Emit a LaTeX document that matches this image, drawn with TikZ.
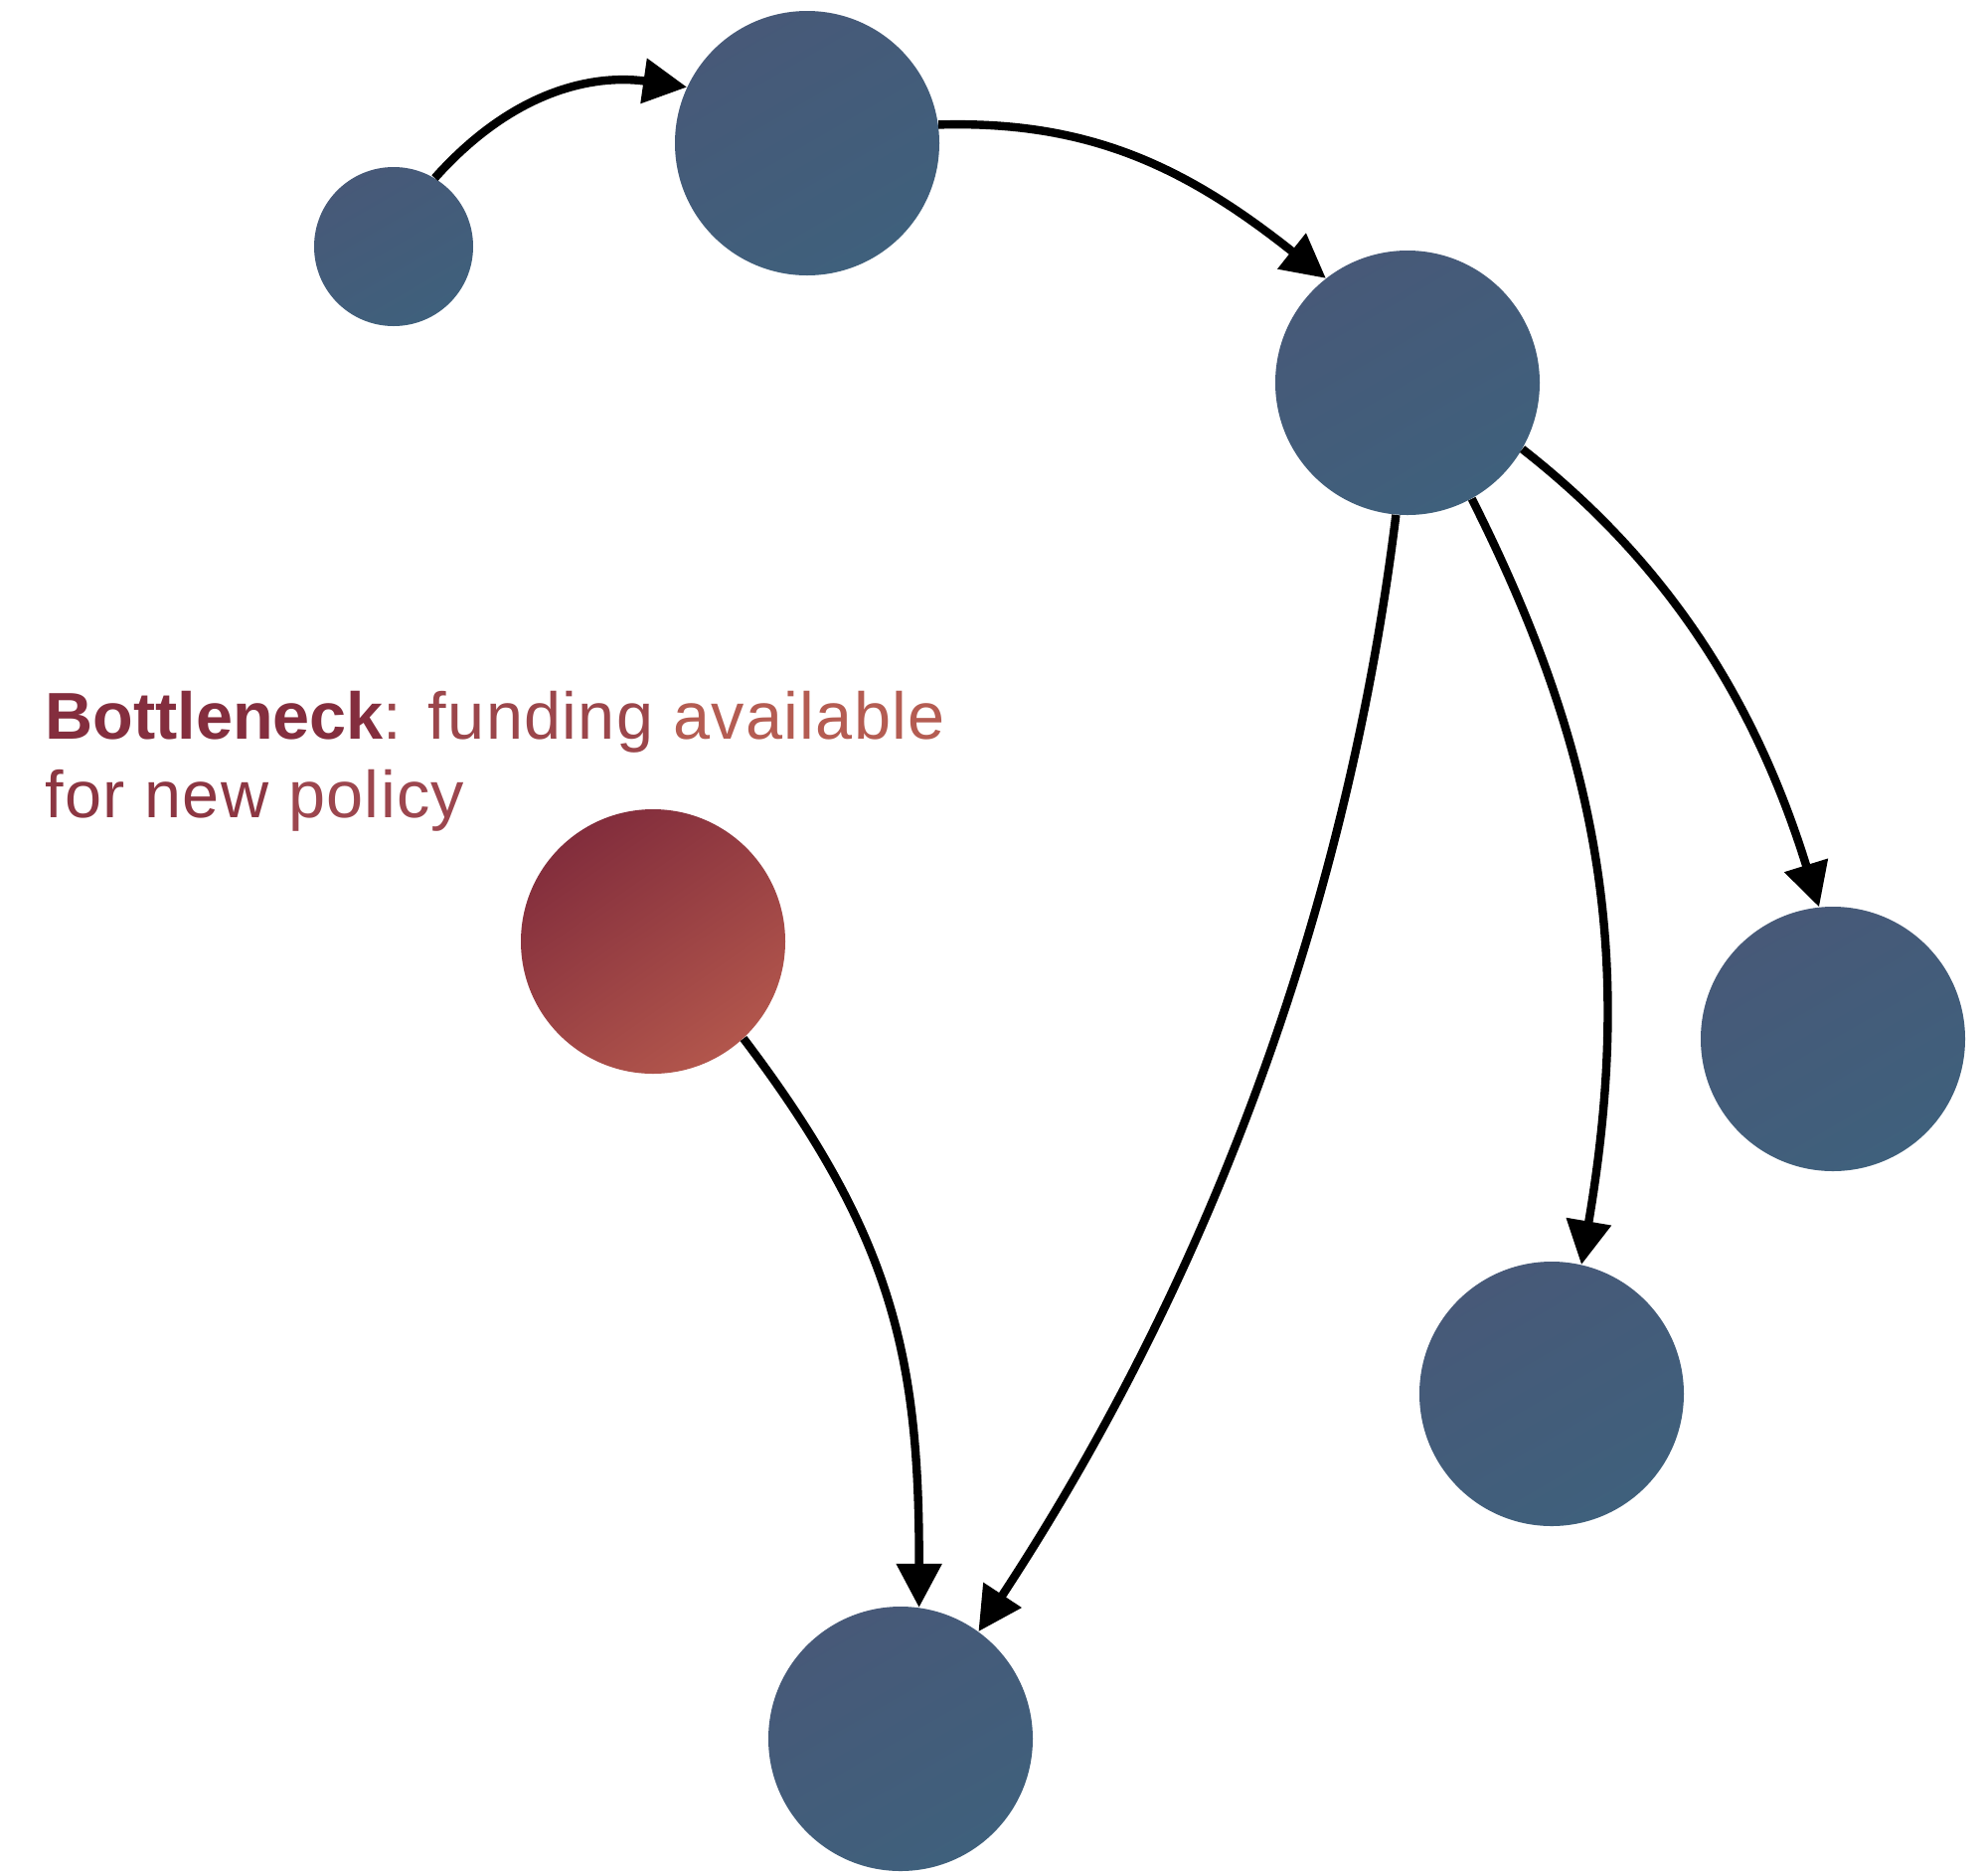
\documentclass[tikz,border=0pt]{standalone}
\usepackage{fontspec}
\setmainfont{Liberation Sans}
\usetikzlibrary{arrows.meta}
\definecolor{blobtop}{RGB}{71,89,120}
\definecolor{blobbot}{RGB}{63,96,124}
\definecolor{hottop}{RGB}{130,45,60}
\definecolor{hotbot}{RGB}{178,86,76}
\definecolor{txtA}{RGB}{132,46,62}
\definecolor{txtB}{RGB}{155,70,75}
\definecolor{txtC}{RGB}{180,92,82}
\definecolor{txtD}{RGB}{140,54,66}
\definecolor{txtE}{RGB}{156,70,78}
\tikzset{
  blob/.style={circle,inner sep=0pt,minimum size=133pt,top color=blobtop,bottom color=blobbot,shading angle=30},
  hot/.style={blob,top color=hottop,bottom color=hotbot,shading angle=35},
  link/.style={line width=4.2pt,-{Triangle[length=22pt,width=22pt]}}
}
\newcommand{\spaced}{\addfontfeatures{LetterSpace=2}}
\begin{document}
\begin{tikzpicture}[x=0.5pt,y=0.5pt]
\useasboundingbox (0,0) rectangle (1998,-1886);

\node[blob,minimum size=80pt] (src) at (396,-248) {};
\node[blob] (hub1) at (812,-144) {};
\node[blob] (hub2) at (1416,-385) {};
\node[blob] (outR) at (1844,-1045) {};
\node[blob] (outM) at (1561,-1402) {};
\node[blob] (outB) at (906,-1749) {};
\node[hot] (neck) at (657,-947) {};

\node[anchor=base west,inner sep=0pt,align=left,font=\fontsize{33.3}{39.5}\selectfont] (note) at (45,-822)
  {\textcolor{txtA}{\textbf{Bottleneck}}{\spaced\textcolor{txtB}{: funding} \textcolor{txtC}{available}}\\
   {\spaced\textcolor{txtD}{for new} \textcolor{txtE}{policy}}};

\draw[link] (src.59) .. controls (525,-81) and (610,-76) .. (hub1.155);
\draw[link] (hub1.8) .. controls (1094,-121) and (1192,-167) .. (hub2.128);
\draw[link] (hub2.-30) .. controls (1688,-574) and (1770,-719) .. (outR.96);
\draw[link] (hub2.-61) .. controls (1615,-768) and (1642,-972) .. (outM.77);
\draw[link] (hub2.-95) .. controls (1353,-934) and (1206,-1304) .. (outB.54);
\draw[link] (neck.-47) .. controls (899,-1244) and (925,-1366) .. (outB.82);
\end{tikzpicture}
\end{document}
